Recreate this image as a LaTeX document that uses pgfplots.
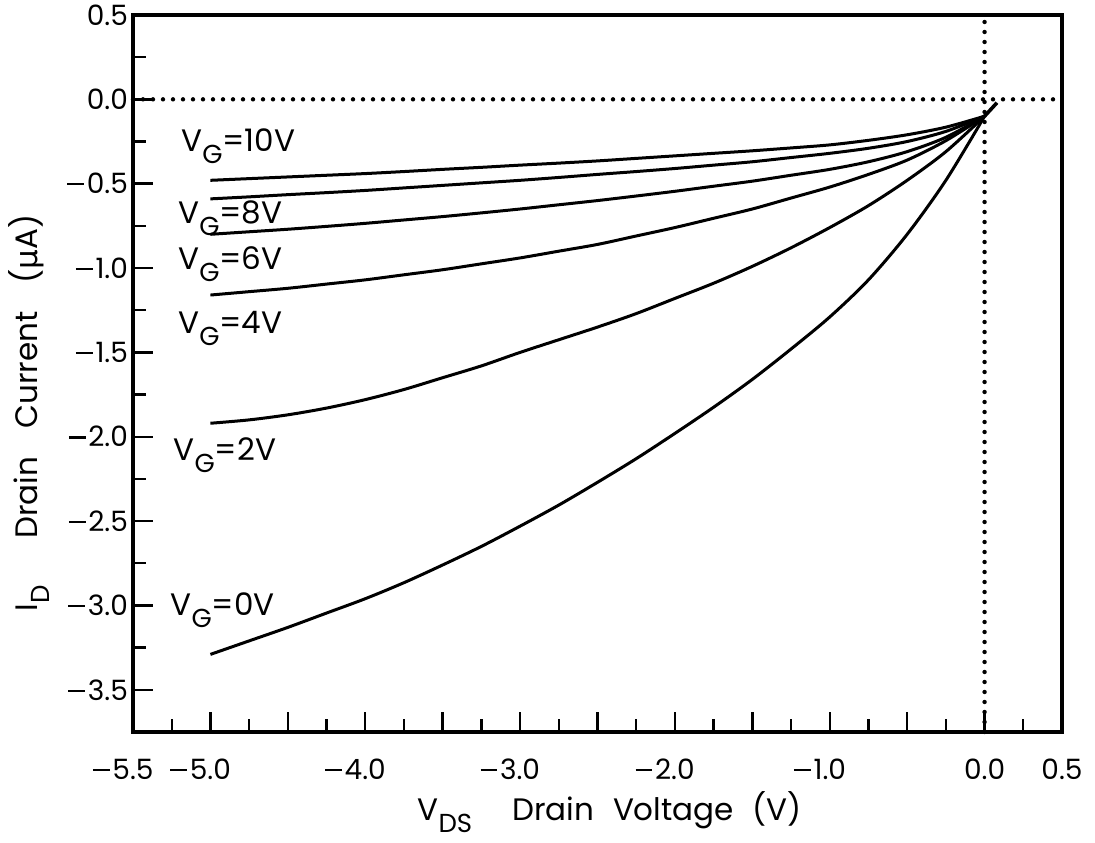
\documentclass[border=0pt]{standalone}
\usepackage{fontspec}
\setmainfont{Poppins}
\newfontfamily\dejavu{DejaVu Sans}
\usepackage{pgfplots}
\pgfplotsset{compat=1.18}
\newcommand{\mnr}{\rule[0.3em]{0.6em}{0.075em}\hspace{0.1em}}
\newcommand{\mn}{\mnr}
\newcommand{\mx}{\llap{\mnr}}
\newcommand{\sub}[1]{\raisebox{-0.38em}{\fontsize{13}{13}\selectfont #1}}
\newcommand{\fnt}{\fontsize{14}{16}\selectfont}
\newcommand{\lfnt}{\fontsize{15.5}{17}\selectfont}
\begin{document}
\begin{tikzpicture}
\begin{axis}[
  name=ax, scale only axis, width=464.5pt, height=358.5pt,
  xmin=-5.5, xmax=0.5, ymin=-3.75, ymax=0.5,
  axis line style={line width=1.9pt},
  every tick/.style={black, line width=1.2pt},
  tick align=inside,
  xtick pos=bottom, ytick pos=left,
  major tick length=10pt, minor tick length=6.5pt,
  xtick={-5.5,-5,-4.5,-4,-3.5,-3,-2.5,-2,-1.5,-1,-0.5,0,0.5},
  xticklabels={\mx5.5,\mx5.0,,\mx4.0,,\mx3.0,,\mx2.0,,\mx1.0,,0.0,0.5},
  minor x tick num=1,
  ytick={-3.5,-3,-2.5,-2,-1.5,-1,-0.5,0,0.5},
  yticklabels={\mn3.5,\mn3.0,\mn2.5,\mn2.0,\mn1.5,\mn1.0,\mn0.5,0.0,0.5},
  minor y tick num=1,
  ticklabel style={font=\fnt},
  xticklabel style={yshift=-10pt},
  yticklabel style={xshift=1pt},
  xlabel={V\sub{DS}\hspace{1.3em}Drain\hspace{0.6em}Voltage\hspace{0.6em}(V)},
  ylabel={I\sub{D}\hspace{1.5em}Drain\hspace{0.9em}Current\hspace{0.9em}({\dejavu μ}A)},
  label style={font=\lfnt},
  xlabel style={at={(axis description cs:0.513,-0.112)}, anchor=center},
  ylabel style={at={(axis description cs:-0.112,0.445)}, anchor=center},
  clip=false,
]
\addplot[black, line width=2.2pt, line cap=round, dash pattern=on 0pt off 5pt] coordinates {(-5.5,0) (0.5,0)};
\addplot[black, line width=2.2pt, line cap=round, dash pattern=on 0pt off 5pt] coordinates {(0,-3.75) (0,0.5)};
% VG=10V
\addplot[black, line width=1.5pt, smooth] coordinates {(-5,-0.48) (-4.75,-0.47) (-4.5,-0.46) (-4.25,-0.45) (-4,-0.44) (-3.75,-0.428) (-3.5,-0.415) (-3.25,-0.403) (-3,-0.39) (-2.75,-0.378) (-2.5,-0.365) (-2.25,-0.35) (-2,-0.335) (-1.75,-0.32) (-1.5,-0.305) (-1.25,-0.288) (-1,-0.27) (-0.75,-0.243) (-0.5,-0.21) (-0.25,-0.165) (0,-0.1)};
% VG=8V
\addplot[black, line width=1.5pt, smooth] coordinates {(-5,-0.59) (-4.75,-0.578) (-4.5,-0.565) (-4.25,-0.553) (-4,-0.54) (-3.75,-0.525) (-3.5,-0.51) (-3.25,-0.495) (-3,-0.48) (-2.75,-0.463) (-2.5,-0.445) (-2.25,-0.428) (-2,-0.41) (-1.75,-0.39) (-1.5,-0.37) (-1.25,-0.345) (-1,-0.32) (-0.75,-0.29) (-0.5,-0.25) (-0.25,-0.19) (0,-0.1)};
% VG=6V
\addplot[black, line width=1.5pt, smooth] coordinates {(-5,-0.80) (-4.75,-0.785) (-4.5,-0.77) (-4.25,-0.753) (-4,-0.735) (-3.75,-0.715) (-3.5,-0.695) (-3.25,-0.673) (-3,-0.65) (-2.75,-0.625) (-2.5,-0.60) (-2.25,-0.573) (-2,-0.545) (-1.75,-0.515) (-1.5,-0.485) (-1.25,-0.45) (-1,-0.415) (-0.75,-0.37) (-0.5,-0.31) (-0.25,-0.225) (0,-0.1)};
% VG=4V
\addplot[black, line width=1.5pt, smooth] coordinates {(-5,-1.16) (-4.75,-1.14) (-4.5,-1.12) (-4.25,-1.095) (-4,-1.07) (-3.75,-1.04) (-3.5,-1.01) (-3.25,-0.975) (-3,-0.94) (-2.75,-0.90) (-2.5,-0.86) (-2.25,-0.81) (-2,-0.76) (-1.75,-0.705) (-1.5,-0.65) (-1.25,-0.585) (-1,-0.52) (-0.75,-0.445) (-0.5,-0.36) (-0.25,-0.245) (0,-0.1)};
% VG=2V
\addplot[black, line width=1.5pt, smooth] coordinates {(-5,-1.92) (-4.75,-1.90) (-4.5,-1.87) (-4.25,-1.83) (-4,-1.78) (-3.75,-1.72) (-3.5,-1.65) (-3.25,-1.58) (-3,-1.50) (-2.75,-1.425) (-2.5,-1.35) (-2.25,-1.27) (-2,-1.18) (-1.75,-1.09) (-1.5,-0.99) (-1.25,-0.88) (-1,-0.76) (-0.75,-0.63) (-0.5,-0.48) (-0.25,-0.31) (0,-0.1)};
% VG=0V
\addplot[black, line width=1.5pt, smooth] coordinates {(-5,-3.29) (-4.75,-3.21) (-4.5,-3.13) (-4.25,-3.045) (-4,-2.96) (-3.75,-2.865) (-3.5,-2.76) (-3.25,-2.65) (-3,-2.53) (-2.75,-2.405) (-2.5,-2.27) (-2.25,-2.13) (-2,-1.98) (-1.75,-1.825) (-1.5,-1.66) (-1.25,-1.48) (-1,-1.29) (-0.75,-1.07) (-0.5,-0.80) (-0.25,-0.48) (0,-0.1)};
% converging tip
\addplot[black, line width=1.8pt] coordinates {(0,-0.1) (0.08,-0.02)};
\node[anchor=base west, inner sep=0pt, font=\lfnt] at (axis cs:-5.19,-0.31) {V\sub{G}=10V};
\node[anchor=base west, inner sep=0pt, font=\lfnt] at (axis cs:-5.21,-0.735) {V\sub{G}=8V};
\node[anchor=base west, inner sep=0pt, font=\lfnt] at (axis cs:-5.21,-1.01) {V\sub{G}=6V};
\node[anchor=base west, inner sep=0pt, font=\lfnt] at (axis cs:-5.21,-1.39) {V\sub{G}=4V};
\node[anchor=base west, inner sep=0pt, font=\lfnt] at (axis cs:-5.24,-2.14) {V\sub{G}=2V};
\node[anchor=base west, inner sep=0pt, font=\lfnt] at (axis cs:-5.26,-3.06) {V\sub{G}=0V};
\end{axis}
\pgfresetboundingbox
\path ([shift={(-66.5pt,-55.5pt)}]ax.south west) rectangle ([shift={(16.5pt,7.5pt)}]ax.north east);
\end{tikzpicture}
\end{document}
